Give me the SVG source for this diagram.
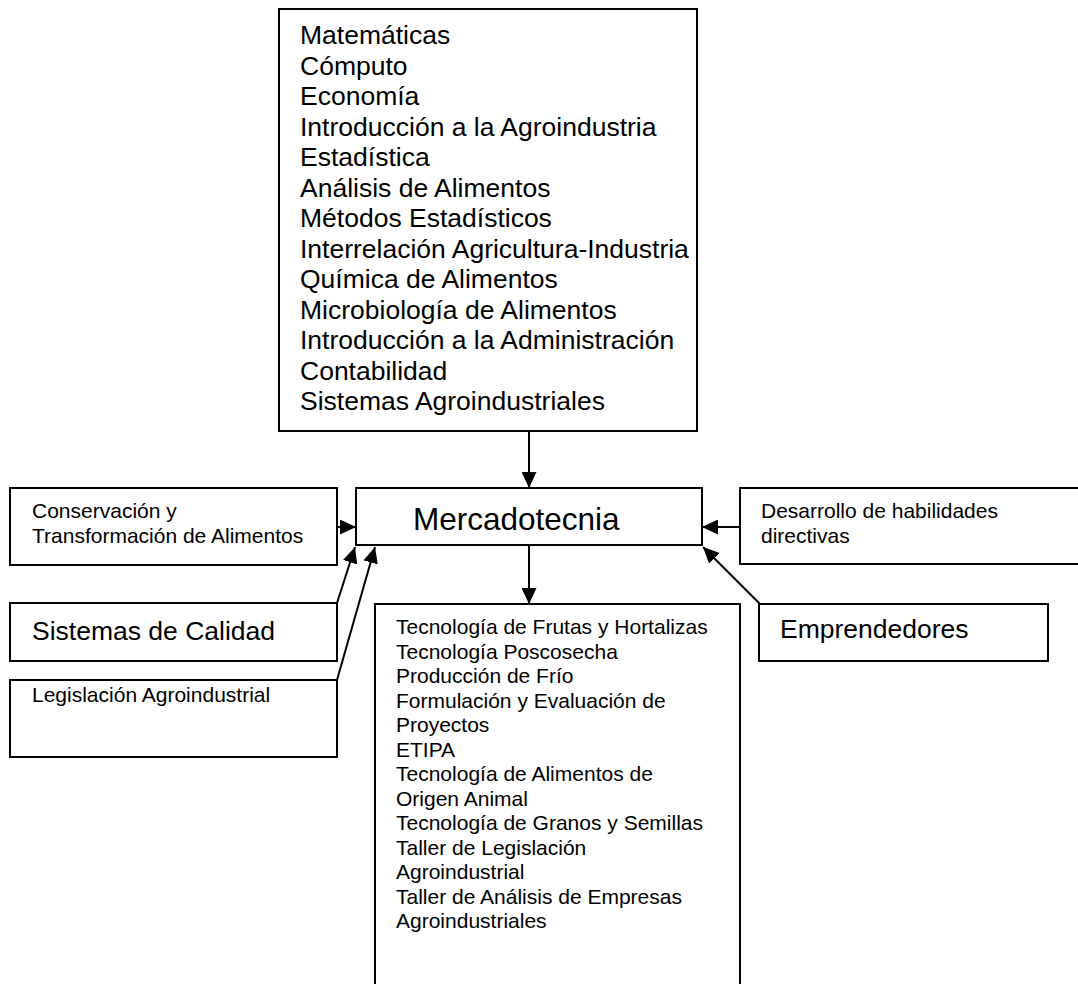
<svg xmlns="http://www.w3.org/2000/svg" width="1078" height="984" viewBox="0 0 1078 984">
<style>
.box{fill:#fff;stroke:#000;stroke-width:2}
.t{font-family:"Liberation Sans",Arial,sans-serif;fill:#000}
.big{font-size:26.5px}
.sm{font-size:21px}
.conn{stroke:#000;stroke-width:2;fill:none;marker-end:url(#arr)}
</style>
<defs>
<marker id="arr" markerUnits="userSpaceOnUse" markerWidth="17" markerHeight="15" refX="16" refY="7.5" orient="auto">
<path d="M0,0 L16,7.5 L0,15 z" fill="#000"/>
</marker>
</defs>
<rect width="1078" height="984" fill="#fff"/>
<g id="top">
<rect class="box" x="279" y="9" width="418" height="422"/>
<text class="t big" x="300">
<tspan x="300" y="44">Matemáticas</tspan>
<tspan x="300" y="74.5">Cómputo</tspan>
<tspan x="300" y="105">Economía</tspan>
<tspan x="300" y="135.5">Introducción a la Agroindustria</tspan>
<tspan x="300" y="166">Estadística</tspan>
<tspan x="300" y="196.5">Análisis de Alimentos</tspan>
<tspan x="300" y="227">Métodos Estadísticos</tspan>
<tspan x="300" y="257.5">Interrelación Agricultura-Industria</tspan>
<tspan x="300" y="288">Química de Alimentos</tspan>
<tspan x="300" y="318.5">Microbiología de Alimentos</tspan>
<tspan x="300" y="349">Introducción a la Administración</tspan>
<tspan x="300" y="379.5">Contabilidad</tspan>
<tspan x="300" y="410">Sistemas Agroindustriales</tspan>
</text>
</g>
<g id="merc">
<rect class="box" x="356" y="488" width="346" height="57"/>
<text class="t" x="413" y="530" font-size="31.5">Mercadotecnia</text>
</g>
<g id="conservacion">
<rect class="box" x="10" y="488" width="327" height="77"/>
<text class="t sm"><tspan x="32" y="518">Conservación y</tspan><tspan x="32" y="542.5">Transformación de Alimentos</tspan></text>
</g>
<g id="calidad">
<rect class="box" x="10" y="603" width="327" height="58"/>
<text class="t big" x="32" y="640">Sistemas de Calidad</text>
</g>
<g id="legislacion">
<rect class="box" x="10" y="680" width="327" height="77"/>
<text class="t sm" x="32" y="702">Legislación Agroindustrial</text>
</g>
<g id="habilidades">
<rect class="box" x="740" y="488" width="350" height="76"/>
<text class="t sm"><tspan x="761" y="518">Desarrollo de habilidades</tspan><tspan x="761" y="542.5">directivas</tspan></text>
</g>
<g id="emprendedores">
<rect class="box" x="759" y="604" width="289" height="57"/>
<text class="t big" x="780" y="638">Emprendedores</text>
</g>
<g id="bottom">
<rect class="box" x="375" y="604" width="365" height="390"/>
<text class="t sm">
<tspan x="396" y="634">Tecnología de Frutas y Hortalizas</tspan>
<tspan x="396" y="658.5">Tecnología Poscosecha</tspan>
<tspan x="396" y="683">Producción de Frío</tspan>
<tspan x="396" y="707.5">Formulación y Evaluación de</tspan>
<tspan x="396" y="732">Proyectos</tspan>
<tspan x="396" y="756.5">ETIPA</tspan>
<tspan x="396" y="781">Tecnología de Alimentos de</tspan>
<tspan x="396" y="805.5">Origen Animal</tspan>
<tspan x="396" y="830">Tecnología de Granos y Semillas</tspan>
<tspan x="396" y="854.5">Taller de Legislación</tspan>
<tspan x="396" y="879">Agroindustrial</tspan>
<tspan x="396" y="903.5">Taller de Análisis de Empresas</tspan>
<tspan x="396" y="928">Agroindustriales</tspan>
</text>
</g>
<g id="connectors">
<line class="conn" x1="529" y1="431" x2="529" y2="488"/>
<line class="conn" x1="529" y1="545" x2="529" y2="604"/>
<line class="conn" x1="337" y1="527" x2="356" y2="527"/>
<line class="conn" x1="337" y1="603" x2="355" y2="547"/>
<line class="conn" x1="337" y1="680" x2="375" y2="547"/>
<line class="conn" x1="740" y1="527" x2="702" y2="527"/>
<line class="conn" x1="760" y1="604" x2="703" y2="547"/>
</g>
</svg>
